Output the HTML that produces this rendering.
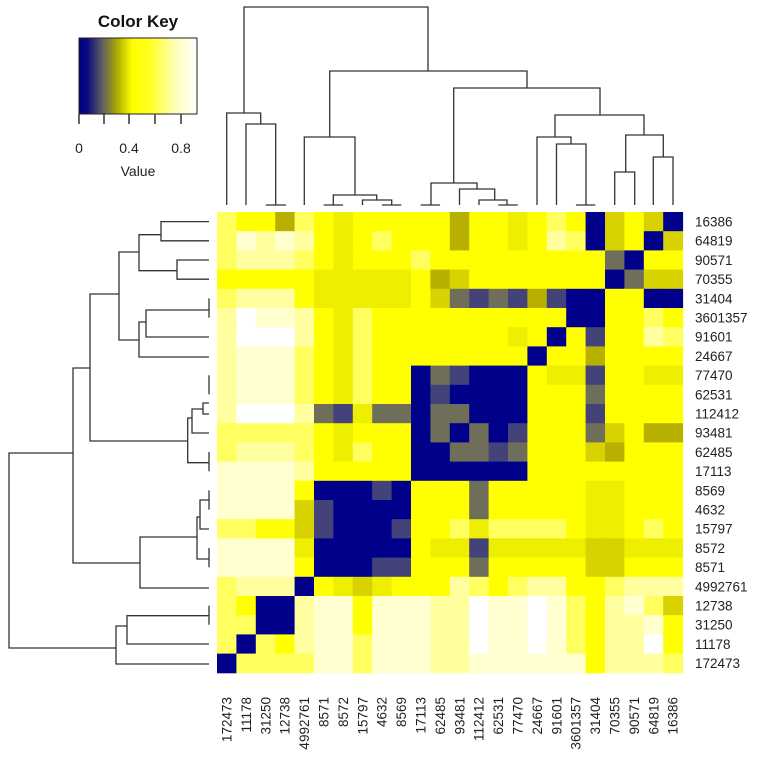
<!DOCTYPE html>
<html><head><meta charset="utf-8">
<style>
html,body{margin:0;padding:0;background:#fff;}
svg text{font-family:"Liberation Sans",Arial,sans-serif;fill:#222;}
</style></head>
<body>
<svg id="s" width="778" height="771" viewBox="0 0 778 771" xmlns="http://www.w3.org/2000/svg">
<defs>
<linearGradient id="g" x1="0" x2="1" y1="0" y2="0">
<stop offset="0" stop-color="#000080"/>
<stop offset="0.07" stop-color="#0a0a80"/>
<stop offset="0.2" stop-color="#606060"/>
<stop offset="0.33" stop-color="#b0b000"/>
<stop offset="0.45" stop-color="#ffff00"/>
<stop offset="0.6" stop-color="#ffff20"/>
<stop offset="0.8" stop-color="#ffffb0"/>
<stop offset="1" stop-color="#ffffff"/>
</linearGradient>
</defs>
<g id="cells"></g>
<!-- color key -->
<text x="138" y="27" font-size="17" font-weight="bold" text-anchor="middle" style="fill:#111">Color Key</text>
<rect x="79" y="38" width="118" height="76" fill="url(#g)" stroke="#222" stroke-width="1"/>
<g stroke="#333" stroke-width="1.5">
<line x1="79" y1="114" x2="79" y2="124"/><line x1="104" y1="114" x2="104" y2="124"/>
<line x1="129" y1="114" x2="129" y2="124"/><line x1="155" y1="114" x2="155" y2="124"/>
<line x1="181" y1="114" x2="181" y2="124"/>
</g>
<text x="79" y="153" font-size="14" text-anchor="middle">0</text>
<text x="129" y="153" font-size="14" text-anchor="middle">0.4</text>
<text x="181" y="153" font-size="14" text-anchor="middle">0.8</text>
<text x="138" y="176" font-size="14" text-anchor="middle">Value</text>
<!-- top dendrogram -->
<g fill="none" stroke="#333" stroke-width="1.3">
<path d="M244,113 V7 H428 V71"/>
<path d="M226.7,205 V113 H260.7 V124"/>
<path d="M246,205 V124 H275.7 V205 M265.7,205 H286"/>
<path d="M329.7,137 V71 H527 V88"/>
<path d="M304.3,205 V137 H355 V195"/>
<path d="M333.3,205 V195 H376.7 V200 M323.7,205 H343.1"/>
<path d="M362.5,205 V200 H391.7 V205 M381.9,205 H401.3"/>
<path d="M453.7,183 V88 H600 V115"/>
<path d="M431,205 V183 H477 V189 M420.7,205 H440.1"/>
<path d="M459.5,205 V189 H494.7 V200"/>
<path d="M479,205 V200 H507 V205 M498.3,205 H517.7"/>
<path d="M555,137 V115 H644 V135"/>
<path d="M537,205 V137 H571 V144"/>
<path d="M556.5,205 V144 H586 V205 M575.9,205 H595.3"/>
<path d="M625.7,172 V135 H663.3 V157"/>
<path d="M614.7,205 V172 H634.7 V205"/>
<path d="M653.3,205 V157 H673 V205"/>
</g>
<!-- left dendrogram -->
<g fill="none" stroke="#333" stroke-width="1.3">
<path d="M73,453 H9 V648 H116"/>
<path d="M209,664 H116 V626 H127"/>
<path d="M209,644 H127 V615.7 H209 M209,605.6 V624.8"/>
<path d="M90,368 H73 V563 H140"/>
<path d="M209,588 H140 V537 H197"/>
<path d="M209,559 H197 V517 H200"/>
<path d="M209,529 H200 V500 H209 M209,490.4 V509.6 M209,548 V567.2"/>
<path d="M119,294 H90 V441 H187.7"/>
<path d="M209,462.7 H187.7 V418 H192 M209,452 V471.2"/>
<path d="M209,433 H192 V409 H203"/>
<path d="M209,414 H203 V403 H209 M209,375.2 V394.4"/>
<path d="M139,340 H119 V252 H139"/>
<path d="M209,357 H139 V322 H146"/>
<path d="M209,337 H146 V310 H209 M209,298.4 V317.6"/>
<path d="M161,234.7 H139 V270.7 H177"/>
<path d="M209,221.6 H161 V240.8 H209"/>
<path d="M209,260 H177 V279.2 H209"/>
</g>
<!-- row labels -->
<g font-size="13.5">
<text x="695" y="226.5">16386</text><text x="695" y="245.7">64819</text>
<text x="695" y="264.9">90571</text><text x="695" y="284.1">70355</text>
<text x="695" y="303.3">31404</text><text x="695" y="322.5">3601357</text>
<text x="695" y="341.7">91601</text><text x="695" y="360.9">24667</text>
<text x="695" y="380.1">77470</text><text x="695" y="399.3">62531</text>
<text x="695" y="418.5">112412</text><text x="695" y="437.7">93481</text>
<text x="695" y="456.9">62485</text><text x="695" y="476.1">17113</text>
<text x="695" y="495.3">8569</text><text x="695" y="514.5">4632</text>
<text x="695" y="533.7">15797</text><text x="695" y="552.9">8572</text>
<text x="695" y="572.1">8571</text><text x="695" y="591.3">4992761</text>
<text x="695" y="610.5">12738</text><text x="695" y="629.7">31250</text>
<text x="695" y="648.9">11178</text><text x="695" y="668.1">172473</text>
</g>
<!-- column labels -->
<g font-size="13.5" text-anchor="end">
<text transform="translate(231.5,697) rotate(-90)">172473</text>
<text transform="translate(250.9,697) rotate(-90)">11178</text>
<text transform="translate(270.3,697) rotate(-90)">31250</text>
<text transform="translate(289.7,697) rotate(-90)">12738</text>
<text transform="translate(309.1,697) rotate(-90)">4992761</text>
<text transform="translate(328.5,697) rotate(-90)">8571</text>
<text transform="translate(347.9,697) rotate(-90)">8572</text>
<text transform="translate(367.3,697) rotate(-90)">15797</text>
<text transform="translate(386.7,697) rotate(-90)">4632</text>
<text transform="translate(406.1,697) rotate(-90)">8569</text>
<text transform="translate(425.5,697) rotate(-90)">17113</text>
<text transform="translate(444.9,697) rotate(-90)">62485</text>
<text transform="translate(464.3,697) rotate(-90)">93481</text>
<text transform="translate(483.7,697) rotate(-90)">112412</text>
<text transform="translate(503.1,697) rotate(-90)">62531</text>
<text transform="translate(522.5,697) rotate(-90)">77470</text>
<text transform="translate(541.9,697) rotate(-90)">24667</text>
<text transform="translate(561.3,697) rotate(-90)">91601</text>
<text transform="translate(580.7,697) rotate(-90)">3601357</text>
<text transform="translate(600.1,697) rotate(-90)">31404</text>
<text transform="translate(619.5,697) rotate(-90)">70355</text>
<text transform="translate(638.9,697) rotate(-90)">90571</text>
<text transform="translate(658.3,697) rotate(-90)">64819</text>
<text transform="translate(677.7,697) rotate(-90)">16386</text>
</g>
</svg>
<script>
var rows=[
"LYYOLYyYYYYYOYYyYLYBoYoB",
"LCPCPYyYLYYYOYYyYPLBoYBo",
"LPPPLYyYYYLYYYYYYYYYGBYY",
"YYYYYyyyyyYOoYYYYYYYBGoo",
"LPPPYyyyyyYoGDGDODBBYYBB",
"PWCCPYyLYYYYYYYYYYBBYYLY",
"PWWWPYyLYYYYYYYyYBYDYYPL",
"PCCCLYyLYYYYYYYYBYYOYYYY",
"PCCCLYyLYYBGDBBBYyyDYYyy",
"PCCCLYyLYYBDBBBBYYYGYYYY",
"PWWWPGDyGGBGGBBBYYYDYYYY",
"LLLLLYyYYYBGBGBDYYYGoYOO",
"LPPPLYyLYYBBGGDGYYYoOYYY",
"CCCCPYYYYYBBBBBBYYYYYYYY",
"CCCCYBBBDBYYYGYYYYYyyYYY",
"CCCCoDBBBBYYYGYYYYYyyYYY",
"LLYYoDBBBDYYLyLLLLYyyYLY",
"CCCCyBBBBBYyyDyyyyyooyyy",
"CCCCYBBBDDYYYGYYYYYooYYY",
"LPPPBYyoyYYYPLYLPPYYLPPP",
"LYBBPCCYCCCPPWCCWCLYPCLo",
"LLBBPCCYCCCPPWCCWCLYPPCY",
"LBLYPCCLCCCPPWCCWCLYPPWY",
"BLLLLCCLCCCPPCCCCCCYPPPL"];
var col={B:"#00008b",D:"#43437a",G:"#6e6e5a",O:"#b8b000",o:"#d8d200",y:"#eeee00",Y:"#ffff00",L:"#ffff60",P:"#ffffa0",C:"#ffffd0",W:"#ffffff"};
var g=document.getElementById("cells"),ns="http://www.w3.org/2000/svg";
for(var r=0;r<24;r++)for(var c=0;c<24;c++){
var e=document.createElementNS(ns,"rect");
var x0=217+c*19.4,y0=212+r*19.2;
e.setAttribute("x",x0.toFixed(2));e.setAttribute("y",y0.toFixed(2));
e.setAttribute("width","19.9");e.setAttribute("height","19.7");
e.setAttribute("fill",col[rows[r][c]]);g.appendChild(e);}
</script>
</body></html>
